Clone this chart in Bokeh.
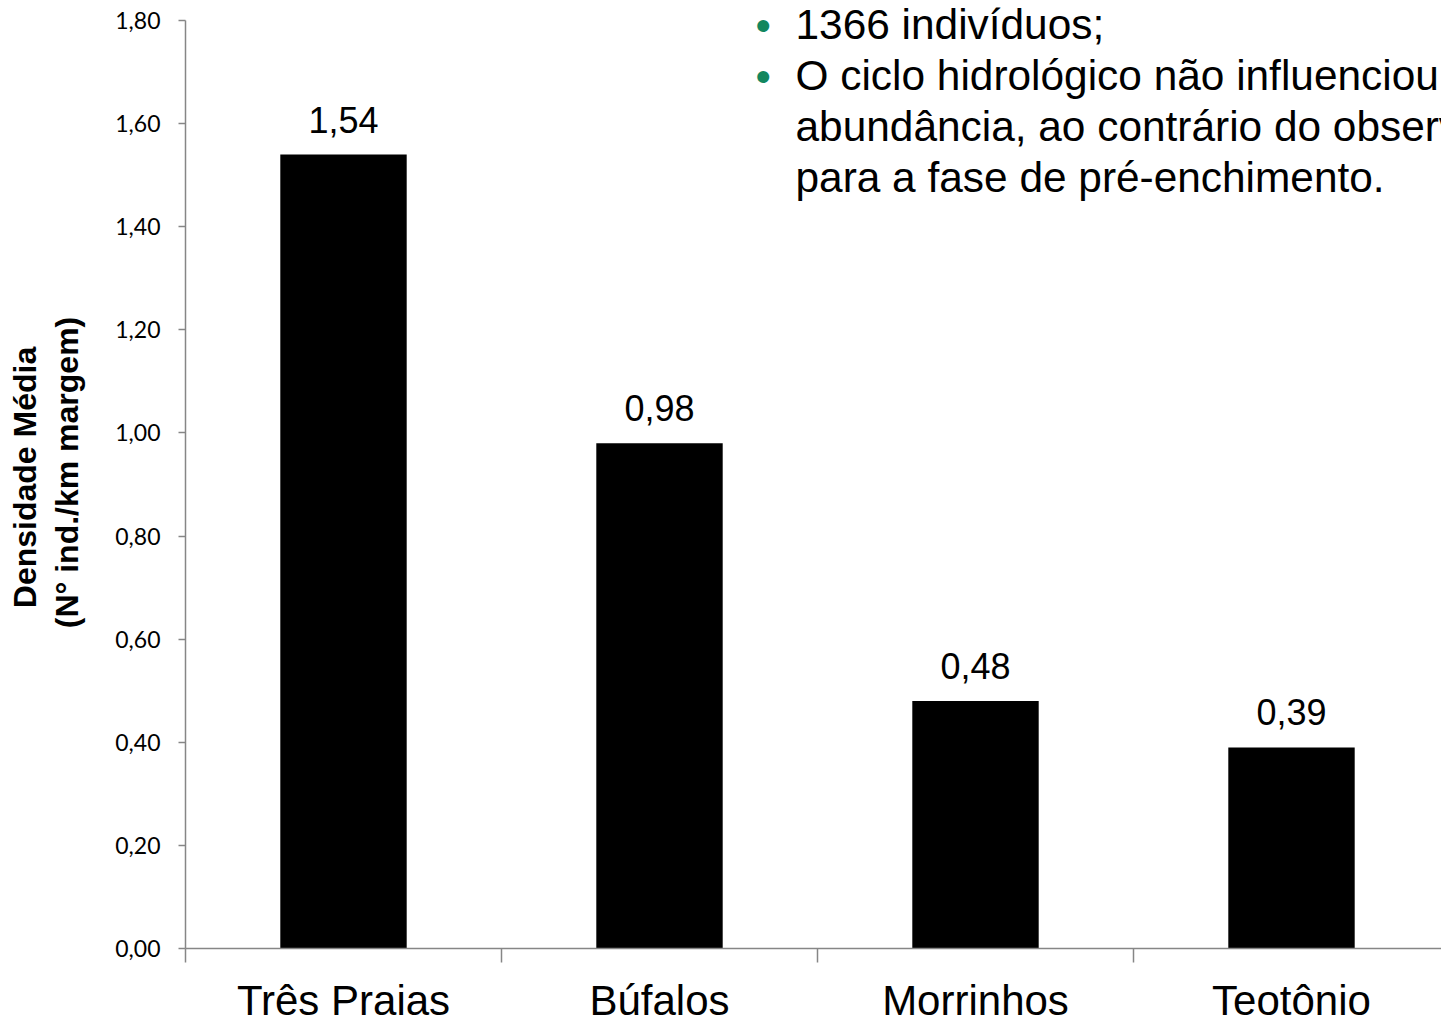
import math
from bokeh.plotting import figure
from bokeh.models import Range1d, FixedTicker, LabelSet, Label, ColumnDataSource, LinearAxis
from bokeh.core.properties import value
from bokeh.embed import file_html
from bokeh.resources import INLINE

# ---- data ----
categories = ["Três Praias", "Búfalos", "Morrinhos", "Teotônio"]
densidade = [1.54, 0.98, 0.48, 0.39]
valor_labels = ["1,54", "0,98", "0,48", "0,39"]
y_ticks = [0.0, 0.2, 0.4, 0.6, 0.8, 1.0, 1.2, 1.4, 1.6, 1.8]
y_tick_labels = ["0,00", "0,20", "0,40", "0,60", "0,80", "1,00", "1,20", "1,40", "1,60", "1,80"]
y_title_lines = ["Densidade Média", "(N° ind./km margem)"]
bullets = ["1366 indivíduos;",
           "O ciclo hidrológico não influenciou a",
           "abundância, ao contrário do observado",
           "para a fase de pré-enchimento."]
bullet_marks = ["•", "•", "", ""]

AXIS_GREY = "#868686"
FONT = "Liberation Sans"

# layout (pixels) -> the frame covers the whole canvas, axes are pinned at 0
W, H = 1441, 1017
PLOT_LEFT, PLOT_TOP, PLOT_BOTTOM = 185, 20, 948
CAT_W = 316
Y_MAX = 1.8
px_y = Y_MAX / (PLOT_BOTTOM - PLOT_TOP)

centers = [i + 0.5 for i in range(len(categories))]
boundaries = [float(i) for i in range(len(categories) + 1)]

src = ColumnDataSource(dict(x=centers, top=densidade, lab=valor_labels,
                            base=[0.0] * len(categories), cat=categories))

p = figure(width=W, height=H, output_backend="svg", toolbar_location=None,
           x_range=Range1d(-PLOT_LEFT / CAT_W, (W - PLOT_LEFT) / CAT_W),
           y_range=Range1d(-(H - PLOT_BOTTOM) * px_y, Y_MAX + PLOT_TOP * px_y),
           min_border_left=0, min_border_top=0, min_border_bottom=0, min_border_right=0,
           x_axis_type=None, y_axis_type=None)
p.outline_line_color = None
p.xgrid.visible = False
p.ygrid.visible = False

p.vbar(x="x", top="top", width=0.4, bottom=0, source=src, fill_color="black", line_color=None)

# value labels above bars
p.add_layout(LabelSet(x="x", y="top", text="lab", source=src, y_offset=22,
                      text_align="center", text_baseline="alphabetic",
                      text_font=value(FONT), text_font_size="36px", text_color="black"))

# category labels under the axis
p.add_layout(LabelSet(x="x", y="base", text="cat", source=src, y_offset=-66,
                      text_align="center", text_baseline="alphabetic",
                      text_font=value(FONT), text_font_size="42px", text_color="black"))

# y axis pinned at x = 0
ya = LinearAxis(ticker=FixedTicker(ticks=y_ticks), fixed_location=0, bounds=(0, Y_MAX),
                major_label_overrides={t: l for t, l in zip(y_ticks, y_tick_labels)})
ya.axis_line_color = AXIS_GREY
ya.axis_line_width = 1.5
ya.major_tick_line_color = AXIS_GREY
ya.major_tick_line_width = 1.5
ya.major_tick_in = 0
ya.major_tick_out = 7
ya.minor_tick_line_color = None
ya.major_label_standoff = 18
ya.major_label_text_font = "Lato"
ya.major_label_text_font_size = "23px"
ya.major_label_text_color = "black"
p.add_layout(ya, "left")

# x axis pinned at y = 0 (ticks at category boundaries)
xa = LinearAxis(ticker=FixedTicker(ticks=boundaries), fixed_location=0,
                bounds=(0, len(categories)),
                major_label_overrides={b: "" for b in boundaries})
xa.axis_line_color = AXIS_GREY
xa.axis_line_width = 1.5
xa.major_tick_line_color = AXIS_GREY
xa.major_tick_line_width = 1.5
xa.major_tick_in = 0
xa.major_tick_out = 14
xa.minor_tick_line_color = None
xa.major_label_standoff = 0
xa.major_label_text_font_size = "0px"
p.add_layout(xa, "below")

# y axis title (two rotated lines)
title_x = [(24 - PLOT_LEFT) / CAT_W, (66 - PLOT_LEFT) / CAT_W]
title_y = [(PLOT_BOTTOM - 477) * px_y, (PLOT_BOTTOM - 472) * px_y]
for t, tx, ty in zip(y_title_lines, title_x, title_y):
    p.add_layout(Label(x=tx, y=ty, text=t, angle=math.pi / 2, text_font=FONT,
                       text_font_size="32px", text_font_style="bold", text_color="black",
                       text_align="center", text_baseline="middle"))

# bullet text
line_pitch = 51 * px_y
base_y = (PLOT_BOTTOM - 24) * px_y
text_x = (795 - PLOT_LEFT) / CAT_W
bullet_x = (755 - PLOT_LEFT) / CAT_W
for i, (t, b) in enumerate(zip(bullets, bullet_marks)):
    y = base_y - i * line_pitch
    p.add_layout(Label(x=text_x, y=y, text=t, text_font=FONT, text_font_size="42.4px",
                       text_color="black", text_baseline="alphabetic"))
    if b:
        p.add_layout(Label(x=bullet_x, y=y, text=b, text_font=FONT, text_font_size="44px",
                           text_color="#12875F", text_baseline="alphabetic", y_offset=-1))

open("out.html", "w").write(file_html(p, INLINE))
